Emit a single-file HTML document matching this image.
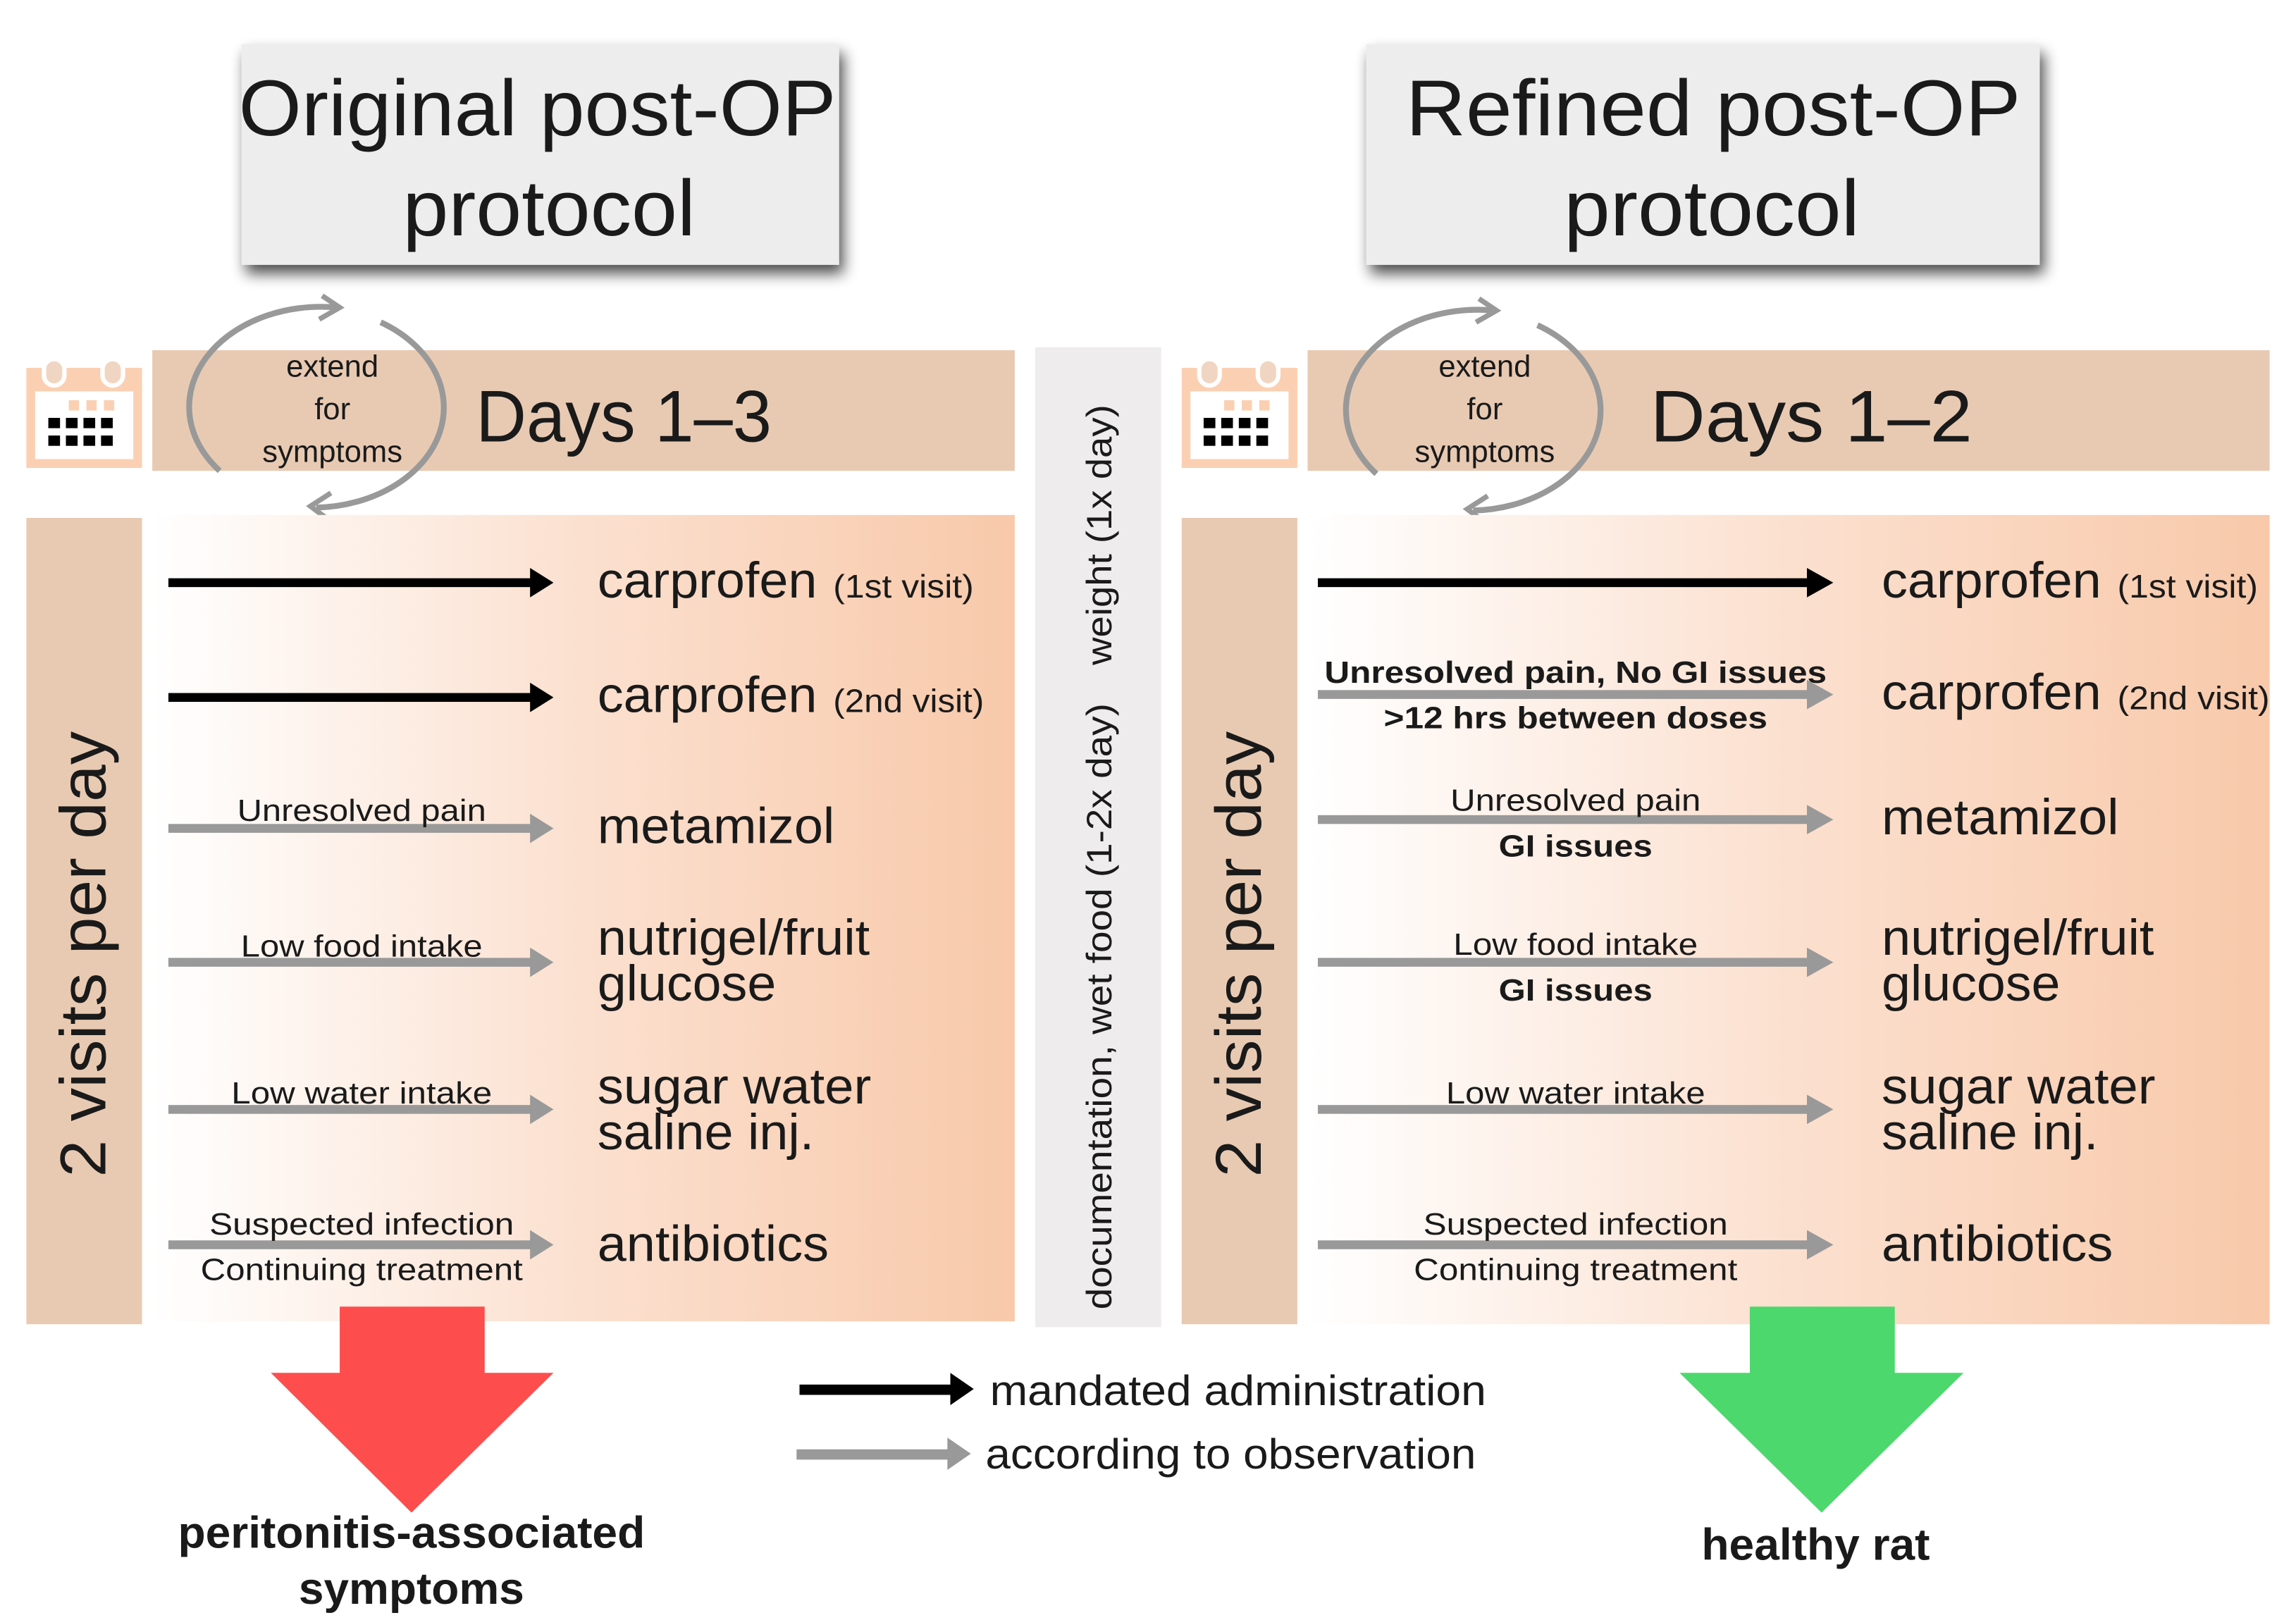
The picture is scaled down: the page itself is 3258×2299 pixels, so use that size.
<!DOCTYPE html>
<html><head><meta charset="utf-8"><style>
html,body{margin:0;padding:0;background:#fff;width:3258px;height:2299px;overflow:hidden}
svg{display:block}
text{font-family:"Liberation Sans",Arial,sans-serif;fill:#1a1a1a}
</style></head><body>
<svg width="3258" height="2299" viewBox="0 0 1568 1101" preserveAspectRatio="none" xmlns="http://www.w3.org/2000/svg">
<defs>
<linearGradient id="g" x1="0" x2="1" y1="0" y2="0">
<stop offset="0" stop-color="#ffffff"/><stop offset="0.5" stop-color="#fbe0cf"/><stop offset="1" stop-color="#f8c9aa"/>
</linearGradient>
<filter id="sh" x="-10%" y="-20%" width="125%" height="150%">
<feGaussianBlur in="SourceAlpha" stdDeviation="5"/><feOffset dx="3" dy="6"/>
<feComponentTransfer><feFuncA type="linear" slope="0.7"/></feComponentTransfer>
<feMerge><feMergeNode/><feMergeNode in="SourceGraphic"/></feMerge>
</filter>
<g id="cal">
<rect x="0" y="10" width="79" height="68" fill="#fbd0b2"/>
<rect x="6" y="26" width="67" height="46" fill="#fff"/>
<rect x="12" y="4" width="14" height="18" rx="7" fill="#f0d6c2" stroke="#fff" stroke-width="3"/>
<rect x="52" y="4" width="14" height="18" rx="7" fill="#f0d6c2" stroke="#fff" stroke-width="3"/>
<rect x="29" y="32" width="7" height="7" fill="#fbd0b2"/><rect x="41" y="32" width="7" height="7" fill="#fbd0b2"/><rect x="53" y="32" width="7" height="7" fill="#fbd0b2"/>
<g fill="#000">
<rect x="15" y="44" width="8" height="7"/><rect x="27" y="44" width="8" height="7"/><rect x="39" y="44" width="8" height="7"/><rect x="51" y="44" width="8" height="7"/>
<rect x="15" y="56" width="8" height="7"/><rect x="27" y="56" width="8" height="7"/><rect x="39" y="56" width="8" height="7"/><rect x="51" y="56" width="8" height="7"/>
</g>
</g>
<g id="cyc" fill="none" stroke="#999" stroke-width="4">
<path d="M -72,43 A 90 68 0 0 1 8,-68"/>
<path d="M -2,-76 L 10,-68 L -4,-60" stroke-width="3.5"/>
<path d="M 38,-58 A 90 68 0 0 1 -6,68"/>
<path d="M 4,58 L -10,67 L 2,76" stroke-width="3.5"/>
</g>
</defs>

<rect x="165" y="30" width="408" height="150" fill="#eeeded" filter="url(#sh)"/>
<text x="367" y="92" font-size="54" text-anchor="middle" textLength="408" lengthAdjust="spacingAndGlyphs">Original post-OP</text>
<text x="375" y="160" font-size="54" text-anchor="middle" textLength="200" lengthAdjust="spacingAndGlyphs">protocol</text>
<rect x="933" y="30" width="460" height="150" fill="#eeeded" filter="url(#sh)"/>
<text x="1170" y="92" font-size="54" text-anchor="middle" textLength="420" lengthAdjust="spacingAndGlyphs">Refined post-OP</text>
<text x="1169" y="160" font-size="54" text-anchor="middle" textLength="202" lengthAdjust="spacingAndGlyphs">protocol</text>

<use href="#cal" x="18" y="240"/>
<rect x="104" y="238" width="589" height="82" fill="#e8cab3"/>
<use href="#cyc" x="222" y="277"/>
<text x="227" y="256" font-size="21" text-anchor="middle">extend</text>
<text x="227" y="285" font-size="21" text-anchor="middle">for</text>
<text x="227" y="314" font-size="21" text-anchor="middle">symptoms</text>
<text x="325" y="300" font-size="50" textLength="202" lengthAdjust="spacingAndGlyphs">Days 1–3</text>
<rect x="18" y="352" width="79" height="548" fill="#e8cab3"/>
<text transform="translate(72,800) rotate(-90)" font-size="44" textLength="303" lengthAdjust="spacingAndGlyphs">2 visits per day</text>
<rect x="104" y="350" width="589" height="548" fill="url(#g)"/>

<rect x="707" y="236" width="86" height="666" fill="#eeecec"/>
<text transform="translate(759,890) rotate(-90)" font-size="24" textLength="412" lengthAdjust="spacingAndGlyphs">documentation, wet food (1-2x day)</text>
<text transform="translate(759,452) rotate(-90)" font-size="24" textLength="177" lengthAdjust="spacingAndGlyphs">weight (1x day)</text>

<use href="#cal" x="807" y="240"/>
<rect x="893" y="238" width="657" height="82" fill="#e8cab3"/>
<use href="#cyc" x="1012" y="279"/>
<text x="1014" y="256" font-size="21" text-anchor="middle">extend</text>
<text x="1014" y="285" font-size="21" text-anchor="middle">for</text>
<text x="1014" y="314" font-size="21" text-anchor="middle">symptoms</text>
<text x="1127" y="300" font-size="50" textLength="220" lengthAdjust="spacingAndGlyphs">Days 1–2</text>
<rect x="807" y="352" width="79" height="548" fill="#e8cab3"/>
<text transform="translate(861,800) rotate(-90)" font-size="44" textLength="303" lengthAdjust="spacingAndGlyphs">2 visits per day</text>
<rect x="893" y="350" width="657" height="550" fill="url(#g)"/>

<g>
<rect x="115" y="393" width="250" height="6" fill="#000"/><polygon points="362,386 378,396 362,406" fill="#000"/>
<rect x="115" y="471" width="250" height="6" fill="#000"/><polygon points="362,464 378,474 362,484" fill="#000"/>
<g fill="#999">
<rect x="115" y="560" width="250" height="6"/><polygon points="362,553 378,563 362,573"/>
<rect x="115" y="651" width="250" height="6"/><polygon points="362,644 378,654 362,664"/>
<rect x="115" y="751" width="250" height="6"/><polygon points="362,744 378,754 362,764"/>
<rect x="115" y="843" width="250" height="6"/><polygon points="362,836 378,846 362,856"/>
</g>
</g>
<g font-size="21" text-anchor="middle">
<text x="247" y="558" textLength="170" lengthAdjust="spacingAndGlyphs">Unresolved pain</text>
<text x="247" y="650" textLength="165" lengthAdjust="spacingAndGlyphs">Low food intake</text>
<text x="247" y="750" textLength="178" lengthAdjust="spacingAndGlyphs">Low water intake</text>
<text x="247" y="839" textLength="208" lengthAdjust="spacingAndGlyphs">Suspected infection</text>
<text x="247" y="870" textLength="220" lengthAdjust="spacingAndGlyphs">Continuing treatment</text>
</g>
<g font-size="34">
<text x="408" y="406" textLength="150" lengthAdjust="spacingAndGlyphs">carprofen</text>
<text x="569" y="406" font-size="22" textLength="96" lengthAdjust="spacingAndGlyphs">(1st visit)</text>
<text x="408" y="484" textLength="150" lengthAdjust="spacingAndGlyphs">carprofen</text>
<text x="569" y="484" font-size="22" textLength="103" lengthAdjust="spacingAndGlyphs">(2nd visit)</text>
<text x="408" y="573" textLength="162" lengthAdjust="spacingAndGlyphs">metamizol</text>
<text x="408" y="649" textLength="186" lengthAdjust="spacingAndGlyphs">nutrigel/fruit</text>
<text x="408" y="680" textLength="122" lengthAdjust="spacingAndGlyphs">glucose</text>
<text x="408" y="750" textLength="187" lengthAdjust="spacingAndGlyphs">sugar water</text>
<text x="408" y="781" textLength="148" lengthAdjust="spacingAndGlyphs">saline inj.</text>
<text x="408" y="857" textLength="158" lengthAdjust="spacingAndGlyphs">antibiotics</text>
</g>

<rect x="900" y="393" width="337" height="6" fill="#000"/><polygon points="1234,386 1252,396 1234,406" fill="#000"/>
<g fill="#999">
<rect x="900" y="469" width="337" height="6"/><polygon points="1234,462 1252,472 1234,482"/>
<rect x="900" y="554" width="337" height="6"/><polygon points="1234,547 1252,557 1234,567"/>
<rect x="900" y="651" width="337" height="6"/><polygon points="1234,644 1252,654 1234,664"/>
<rect x="900" y="751" width="337" height="6"/><polygon points="1234,744 1252,754 1234,764"/>
<rect x="900" y="843" width="337" height="6"/><polygon points="1234,836 1252,846 1234,856"/>
</g>
<g font-size="21" text-anchor="middle">
<text x="1076" y="464" font-weight="bold" textLength="343" lengthAdjust="spacingAndGlyphs">Unresolved pain, No GI issues</text>
<text x="1076" y="495" font-weight="bold" textLength="262" lengthAdjust="spacingAndGlyphs">&gt;12 hrs between doses</text>
<text x="1076" y="551" textLength="171" lengthAdjust="spacingAndGlyphs">Unresolved pain</text>
<text x="1076" y="582" font-weight="bold" textLength="105" lengthAdjust="spacingAndGlyphs">GI issues</text>
<text x="1076" y="649" textLength="167" lengthAdjust="spacingAndGlyphs">Low food intake</text>
<text x="1076" y="680" font-weight="bold" textLength="105" lengthAdjust="spacingAndGlyphs">GI issues</text>
<text x="1076" y="750" textLength="177" lengthAdjust="spacingAndGlyphs">Low water intake</text>
<text x="1076" y="839" textLength="208" lengthAdjust="spacingAndGlyphs">Suspected infection</text>
<text x="1076" y="870" textLength="221" lengthAdjust="spacingAndGlyphs">Continuing treatment</text>
</g>
<g font-size="34">
<text x="1285" y="406" textLength="150" lengthAdjust="spacingAndGlyphs">carprofen</text>
<text x="1446" y="406" font-size="22" textLength="96" lengthAdjust="spacingAndGlyphs">(1st visit)</text>
<text x="1285" y="482" textLength="150" lengthAdjust="spacingAndGlyphs">carprofen</text>
<text x="1446" y="482" font-size="22" textLength="104" lengthAdjust="spacingAndGlyphs">(2nd visit)</text>
<text x="1285" y="567" textLength="162" lengthAdjust="spacingAndGlyphs">metamizol</text>
<text x="1285" y="649" textLength="186" lengthAdjust="spacingAndGlyphs">nutrigel/fruit</text>
<text x="1285" y="680" textLength="122" lengthAdjust="spacingAndGlyphs">glucose</text>
<text x="1285" y="750" textLength="187" lengthAdjust="spacingAndGlyphs">sugar water</text>
<text x="1285" y="781" textLength="148" lengthAdjust="spacingAndGlyphs">saline inj.</text>
<text x="1285" y="857" textLength="158" lengthAdjust="spacingAndGlyphs">antibiotics</text>
</g>

<polygon points="232,888 331,888 331,933 378,933 281,1028 185,933 232,933" fill="#fe4d4d"/>
<polygon points="1195,888 1294,888 1294,933 1341,933 1244,1028 1147,933 1195,933" fill="#4cd86c"/>
<g font-size="30" font-weight="bold" text-anchor="middle">
<text x="281" y="1052" textLength="319" lengthAdjust="spacingAndGlyphs">peritonitis-associated</text>
<text x="281" y="1090" textLength="154" lengthAdjust="spacingAndGlyphs">symptoms</text>
<text x="1240" y="1060" textLength="156" lengthAdjust="spacingAndGlyphs">healthy rat</text>
</g>

<rect x="546" y="941" width="106" height="7" fill="#000"/><polygon points="649,933 665,944 649,955" fill="#000"/>
<rect x="544" y="985" width="106" height="7" fill="#999"/><polygon points="647,977 663,988 647,999" fill="#999"/>
<text x="676" y="955" font-size="29" textLength="339" lengthAdjust="spacingAndGlyphs">mandated administration</text>
<text x="673" y="998" font-size="29" textLength="335" lengthAdjust="spacingAndGlyphs">according to observation</text>
</svg>
</body></html>
